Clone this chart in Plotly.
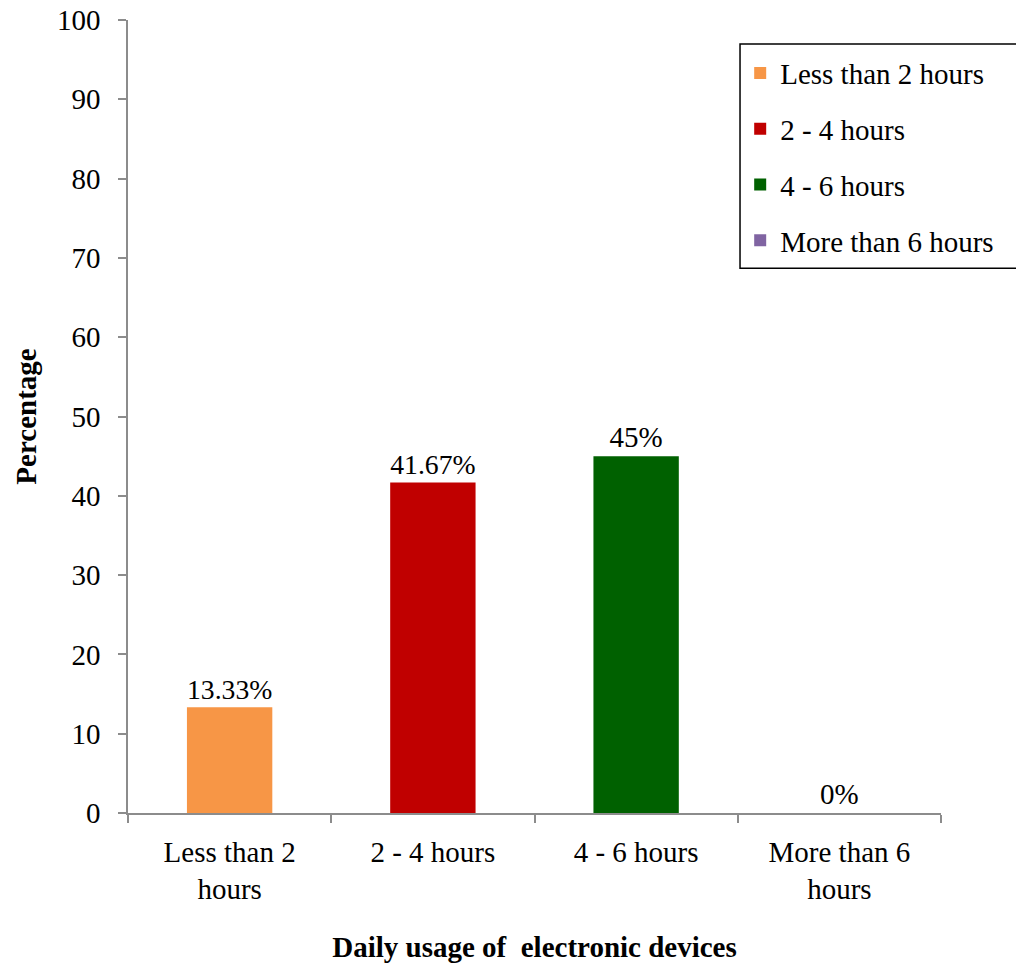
import plotly.graph_objects as go

categories = ["Less than 2 hours", "2 - 4 hours", "4 - 6 hours", "More than 6 hours"]
tick_labels = ["Less than 2<br>hours", "2 - 4 hours", "4 - 6 hours", "More than 6<br>hours"]
values = [13.33, 41.67, 45, 0]
value_labels = ["13.33%", "41.67%", "45%", "0%"]
colors = ["#F79646", "#C00000", "#006100", "#8064A2"]

FONT = "Liberation Serif, Times New Roman, serif"
FS = 29

fig = go.Figure()
for i, (cat, val, lab, col) in enumerate(zip(categories, values, value_labels, colors)):
    fig.add_trace(go.Bar(
        x=[cat], y=[val], name=cat,
        marker=dict(color=col, line=dict(width=0)),
        width=0.42,
        text=[lab], textposition="outside", cliponaxis=False,
        textfont=dict(family=FONT, size=FS, color="black"),
        legendgroup=f"g{i}",
    ))

# legend frame runs off the right edge of the page
fig.add_shape(
    type="rect", xref="paper", yref="paper",
    x0=0.7528, x1=1.12, y0=0.687, y1=0.9697,
    line=dict(color="black", width=1.5), fillcolor="rgba(0,0,0,0)", layer="above",
)

fig.update_layout(
    width=1016, height=963,
    margin=dict(l=128, r=75, t=20, b=150, autoexpand=False),
    paper_bgcolor="white", plot_bgcolor="white",
    barmode="overlay",
    font=dict(family=FONT, size=FS, color="black"),
    showlegend=True,
    legend=dict(
        x=0.753, y=0.965, xanchor="left", yanchor="top",
        borderwidth=0, bgcolor="rgba(0,0,0,0)",
        font=dict(family=FONT, size=FS, color="black"),
        tracegroupgap=15, itemwidth=30,
    ),
    xaxis=dict(
        type="category", categoryorder="array", categoryarray=categories,
        tickmode="array", tickvals=categories, ticktext=tick_labels,
        tickson="boundaries", ticks="outside", ticklen=8, tickcolor="#8C8C8C", tickwidth=1.5,
        ticklabelstandoff=12, automargin=False,
        showline=True, linecolor="#8C8C8C", linewidth=1.5,
        showgrid=False, zeroline=False,
        title=dict(text="<b>Daily usage of  electronic devices</b>", font=dict(family=FONT, size=FS), standoff=32),
    ),
    yaxis=dict(
        range=[0, 100], tickmode="linear", tick0=0, dtick=10,
        ticks="outside", ticklen=8, tickcolor="#8C8C8C", tickwidth=1.5,
        ticklabelstandoff=12, automargin=False,
        showline=True, linecolor="#8C8C8C", linewidth=1.5,
        showgrid=False, zeroline=False,
        title=dict(text="<b>Percentage</b>", font=dict(family=FONT, size=FS), standoff=12),
    ),
)

fig.write_html("out.html")
